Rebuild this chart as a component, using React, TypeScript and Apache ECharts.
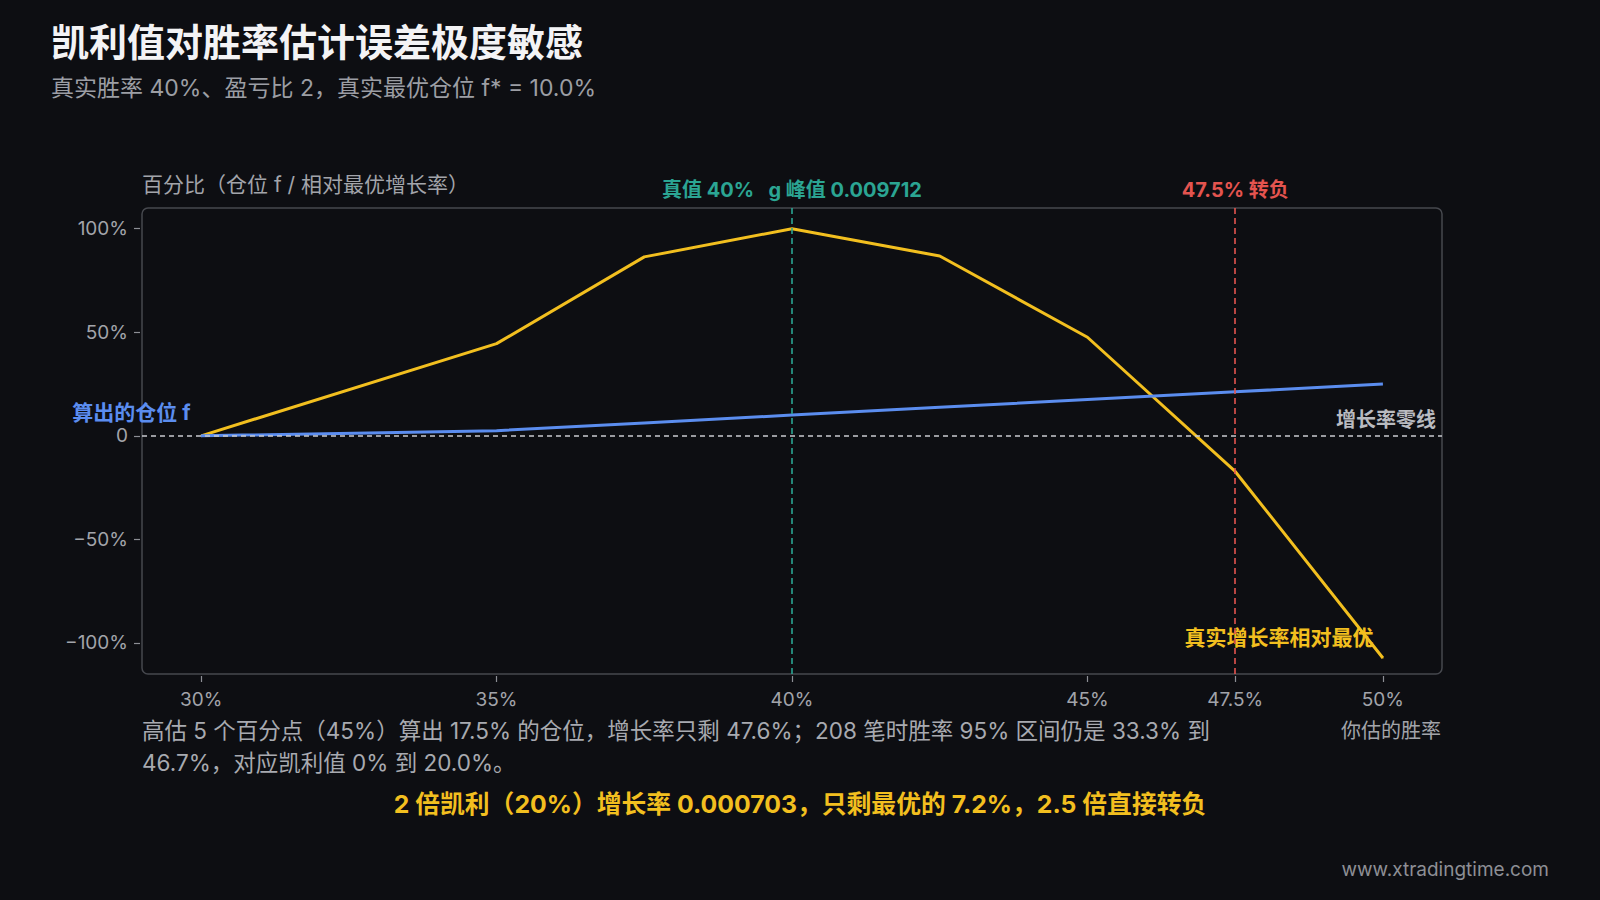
import React, { useEffect, useRef } from "react";
import * as echarts from "echarts";

// ---- data ----
const winRateEstimates = [30, 35, 37.5, 40, 42.5, 45, 47.5, 50];
const kellyPosition = [0, 2.5, 6.25, 10, 13.75, 17.5, 21.25, 25];
const relativeGrowth = [0, 44.5, 86.4, 100, 86.8, 47.6, -17.2, -107.3];
const xTickValues = [30, 35, 40, 45, 47.5, 50];
const yTickValues = [-100, -50, 0, 50, 100];
const trueWinRate = 40;
const turnNegativeAt = 47.5;

const TITLE = "凯利值对胜率估计误差极度敏感";
const SUBTITLE = "真实胜率 40%、盈亏比 2，真实最优仓位 f* = 10.0%";
const Y_NAME = "百分比（仓位 f / 相对最优增长率）";
const X_NAME = "你估的胜率";
const NOTE_LINES = [
  "高估 5 个百分点（45%）算出 17.5% 的仓位，增长率只剩 47.6%；208 笔时胜率 95% 区间仍是 33.3% 到",
  "46.7%，对应凯利值 0% 到 20.0%。",
];
const HIGHLIGHT = "2 倍凯利（20%）增长率 0.000703，只剩最优的 7.2%，2.5 倍直接转负";
const FOOTER = "www.xtradingtime.com";
const LABEL_F = "算出的仓位 f";
const LABEL_G = "真实增长率相对最优";
const LABEL_TRUE = "真值 40%   g 峰值 0.009712";
const LABEL_NEG = "47.5% 转负";
const LABEL_ZERO = "增长率零线";

const FONT = "Inter, 'Noto Sans CJK SC', sans-serif";
const BG = "#0d0e12";
const GRAY = "#a2a4aa";
const YELLOW = "#f2bf1f";
const BLUE = "#5b8def";
const TEAL = "#2ba593";
const RED = "#e4544f";

const G = { left: 142, top: 208, width: 1300, height: 466 };

export default function App() {
  const ref = useRef<HTMLDivElement>(null);
  useEffect(() => {
    if (!ref.current) return;
    const chart = echarts.init(ref.current, null, { renderer: "svg" });
    const fData = winRateEstimates.map((x, i) => {
      const item: any = { value: [x, kellyPosition[i]] };
      if (i === 0) {
        item.symbol = "circle";
        item.symbolSize = 1;
        item.label = {
          show: true,
          formatter: LABEL_F,
          position: "left",
          distance: 10,
          offset: [0, -23],
          color: BLUE,
          fontSize: 21,
          fontWeight: "bold",
          fontFamily: FONT,
        };
      }
      return item;
    });
    const gData = winRateEstimates.map((x, i) => {
      const item: any = { value: [x, relativeGrowth[i]] };
      if (i === winRateEstimates.length - 1) {
        item.symbol = "circle";
        item.symbolSize = 1;
        item.label = {
          show: true,
          formatter: LABEL_G,
          position: "left",
          distance: 9,
          offset: [0, -21],
          color: YELLOW,
          fontSize: 21,
          fontWeight: "bold",
          fontFamily: FONT,
        };
      }
      return item;
    });

    const option: any = {
      animation: false,
      backgroundColor: BG,
      textStyle: { fontFamily: FONT },
      grid: {
        left: G.left,
        top: G.top,
        width: G.width,
        height: G.height,
        containLabel: false,
      },
      xAxis: {
        type: "value",
        min: 29,
        max: 51,
        offset: 2,
        axisLine: { show: false, onZero: false },
        splitLine: { show: false },
        axisTick: {
          show: true,
          length: 6,
          customValues: xTickValues,
          lineStyle: { color: "#8c8e94", width: 1.2 },
        },
        axisLabel: {
          customValues: xTickValues,
          formatter: (v: number) => `${v}%`,
          color: GRAY,
          fontSize: 19,
          margin: 14,
          fontFamily: FONT,
        },
      },
      yAxis: {
        type: "value",
        min: -115,
        max: 110,
        offset: 2,
        axisLine: { show: false, onZero: false },
        splitLine: { show: false },
        axisTick: {
          show: true,
          length: 6,
          customValues: yTickValues,
          lineStyle: { color: "#8c8e94", width: 1.2 },
        },
        axisLabel: {
          customValues: yTickValues,
          formatter: (v: number) => (v === 0 ? "0" : v < 0 ? `\u2212${-v}%` : `${v}%`),
          color: GRAY,
          fontSize: 19,
          margin: 12,
          fontFamily: FONT,
        },
      },
      series: [
        {
          type: "line",
          name: "growth",
          data: gData,
          showSymbol: true,
          symbol: "none",
          lineStyle: { color: YELLOW, width: 3 },
          itemStyle: { color: YELLOW },
          z: 3,
          markLine: {
            silent: true,
            symbol: "none",
            data: [
              {
                xAxis: trueWinRate,
                lineStyle: { color: TEAL, type: [6, 4], width: 1.6 },
                label: {
                  show: true,
                  position: "end",
                  distance: 8,
                  formatter: LABEL_TRUE,
                  color: TEAL,
                  fontSize: 20,
                  fontWeight: "bold",
                  fontFamily: FONT,
                },
              },
              {
                xAxis: turnNegativeAt,
                lineStyle: { color: RED, type: [6, 4], width: 1.6 },
                label: {
                  show: true,
                  position: "end",
                  distance: 8,
                  formatter: LABEL_NEG,
                  color: RED,
                  fontSize: 20,
                  fontWeight: "bold",
                  fontFamily: FONT,
                },
              },
            ],
          },
        },
        {
          type: "line",
          name: "kelly",
          data: fData,
          showSymbol: true,
          symbol: "none",
          lineStyle: { color: BLUE, width: 3 },
          itemStyle: { color: BLUE },
          z: 4,
          markLine: {
            silent: true,
            symbol: "none",
            data: [
              {
                yAxis: 0,
                lineStyle: { color: "#c9cacf", type: [5, 4], width: 1.6 },
                label: {
                  show: true,
                  position: "insideEndTop",
                  distance: 6,
                  formatter: LABEL_ZERO,
                  color: "#b9bbc0",
                  fontSize: 20,
                  fontWeight: "bold",
                  fontFamily: FONT,
                },
              },
            ],
          },
        },
      ],
      graphic: [
        {
          type: "rect",
          silent: true,
          z: 0,
          shape: { x: G.left, y: G.top, width: G.width, height: G.height, r: 6 },
          style: { fill: "none", stroke: "#46484e", lineWidth: 1.5 },
        },
        {
          type: "text",
          left: 51,
          top: 23,
          style: { text: TITLE, fill: "#f3f3f5", font: `bold 38px ${FONT}` },
        },
        {
          type: "text",
          left: 51,
          top: 76,
          style: { text: SUBTITLE, fill: "#9c9ea4", font: `23px ${FONT}` },
        },
        {
          type: "text",
          left: 142,
          top: 174,
          style: { text: Y_NAME, fill: GRAY, font: `21px ${FONT}` },
        },
        {
          type: "text",
          x: 1441,
          y: 731,
          style: {
            text: X_NAME,
            fill: GRAY,
            font: `20px ${FONT}`,
            align: "right",
            verticalAlign: "middle",
          },
        },
        {
          type: "text",
          x: 142,
          y: 715,
          style: {
            text: NOTE_LINES.join("\n"),
            fill: "#a8aab0",
            font: `22.5px ${FONT}`,
            lineHeight: 31.5,
            verticalAlign: "top",
          },
        },
        {
          type: "text",
          x: 800,
          y: 804,
          style: {
            text: HIGHLIGHT,
            fill: YELLOW,
            font: `bold 24.8px ${FONT}`,
            align: "center",
            verticalAlign: "middle",
          },
        },
        {
          type: "text",
          x: 1549,
          y: 869,
          style: {
            text: FOOTER,
            fill: "#8d8f95",
            font: `19px ${FONT}`,
            align: "right",
            verticalAlign: "middle",
          },
        },
      ],
    };
    chart.setOption(option);
    return () => chart.dispose();
  }, []);
  return (
    <div
      ref={ref}
      style={{ position: "absolute", left: 0, top: 0, width: 1600, height: 900, background: BG }}
    />
  );
}
